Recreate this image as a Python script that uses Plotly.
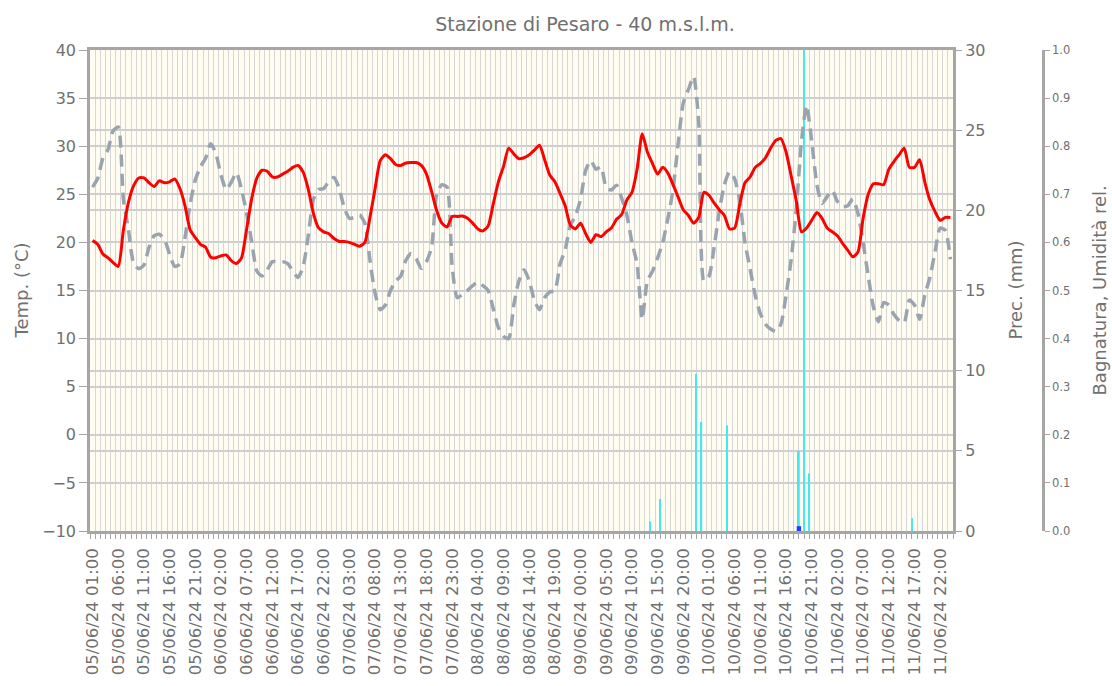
import pandas as pd
import plotly.graph_objects as go

# ---------------- data ----------------
times = pd.date_range("2024-06-05 01:00", periods=168, freq="h")

temperature = [
    20.2, 19.8, 18.8, 18.4, 17.9, 17.5, 21.3, 24.2, 25.9, 26.7,
    26.7, 26.2, 25.8, 26.4, 26.2, 26.3, 26.6, 25.6, 23.8, 21.3,
    20.5, 19.8, 19.5, 18.45, 18.4, 18.6, 18.7, 18.1, 17.8, 18.4,
    21.4, 24.6, 26.7, 27.5, 27.4, 26.8, 26.8, 27.1, 27.4, 27.8,
    28.0, 27.3, 25.5, 23.0, 21.5, 21.1, 20.9, 20.4, 20.1, 20.1,
    20.0, 19.8, 19.6, 20.0, 22.6, 25.6, 28.5, 29.1, 28.7, 28.1,
    28.0, 28.25, 28.3, 28.3, 28.0, 27.1, 25.3, 23.3, 22.0, 21.6,
    22.7, 22.7, 22.75, 22.5, 22.0, 21.4, 21.2, 21.7, 24.0, 26.3,
    27.9, 29.8, 29.2, 28.7, 28.8, 29.1, 29.6, 30.1, 28.6, 27.0,
    26.3, 25.1, 23.8, 21.8, 21.4, 22.0, 20.9, 20.0, 20.8, 20.6,
    21.1, 21.5, 22.4, 22.9, 24.4, 25.2, 27.6, 31.3, 29.4, 28.2,
    27.1, 27.8, 27.2, 26.0, 24.7, 23.4, 22.8, 22.0, 22.6, 25.2,
    24.9, 24.1, 23.4, 22.8, 21.4, 21.5, 24.0, 26.2, 26.8, 27.8,
    28.2, 28.8, 29.8, 30.6, 30.8, 29.4, 26.9, 24.3, 21.1, 21.5,
    22.3, 23.1, 22.5, 21.5, 21.1, 20.7, 19.9, 19.2, 18.5, 19.0,
    22.5, 25.0, 26.1, 26.1, 26.0, 27.6, 28.4, 29.1, 29.8, 27.8,
    27.8, 28.6, 26.3, 24.4, 23.2, 22.3, 22.6, 22.6,
]

humidity = [
    0.715, 0.733, 0.775, 0.793, 0.832, 0.84, 0.69, 0.625, 0.556, 0.545,
    0.553, 0.59, 0.614, 0.617, 0.606, 0.575, 0.55, 0.555, 0.61, 0.68,
    0.73, 0.757, 0.775, 0.805, 0.785, 0.74, 0.71, 0.725, 0.745, 0.71,
    0.66, 0.60, 0.54, 0.53, 0.543, 0.56, 0.56, 0.56, 0.556, 0.54,
    0.527, 0.55, 0.615, 0.69, 0.71, 0.712, 0.727, 0.735, 0.712, 0.672,
    0.65, 0.652, 0.657, 0.64, 0.563, 0.494, 0.46, 0.47, 0.50, 0.52,
    0.53, 0.563, 0.577, 0.566, 0.546, 0.56, 0.59, 0.70, 0.72, 0.715,
    0.55, 0.485, 0.492, 0.50, 0.51, 0.518, 0.51, 0.50, 0.462, 0.423,
    0.405, 0.40, 0.47, 0.52, 0.543, 0.52, 0.48, 0.46, 0.485, 0.497,
    0.50, 0.555, 0.585, 0.635, 0.655, 0.69, 0.75, 0.77, 0.752, 0.757,
    0.713, 0.709, 0.719, 0.692, 0.657, 0.60, 0.555, 0.44, 0.52, 0.54,
    0.568, 0.60, 0.65, 0.71, 0.806, 0.89, 0.918, 0.945, 0.85, 0.52,
    0.53, 0.59, 0.665, 0.72, 0.747, 0.732, 0.685, 0.60, 0.545, 0.49,
    0.452, 0.43, 0.42, 0.415, 0.43, 0.49, 0.565, 0.67, 0.81, 0.885,
    0.81, 0.72, 0.681, 0.695, 0.708, 0.685, 0.674, 0.676, 0.69, 0.66,
    0.60, 0.53, 0.466, 0.435, 0.475, 0.47, 0.45, 0.438, 0.433, 0.48,
    0.47, 0.44, 0.49, 0.527, 0.58, 0.63, 0.625, 0.565,
]

precip_times = [
    "2024-06-09 13:00", "2024-06-09 15:00", "2024-06-09 22:00", "2024-06-09 23:00",
    "2024-06-10 04:00", "2024-06-10 18:00", "2024-06-10 19:00", "2024-06-10 20:00",
    "2024-06-11 16:00",
]
precip_mm = [0.6, 2.0, 9.8, 6.8, 6.6, 5.0, 31.0, 3.6, 0.8]

wet_times = ["2024-06-10 18:00"]
wet_values = [0.01]

title_text = "Stazione di Pesaro - 40 m.s.l.m."
temp_title = "Temp. (°C)"
prec_title = "Prec. (mm)"
hum_title = "Bagnatura, Umidità rel."

# ---------------- styling ----------------
FONT = "DejaVu Sans"
TXT = "#707070"
GRID_V = "#d6d6d6"
GRID_H = "#cfcfcf"
AXL = "#a6a6a6"
HOUR = 3600 * 1000

W, H = 1112, 686
left, right_plot, right_paper, top, bottom = 90, 953, 1043, 50, 531
paper_w = right_paper - left
xdom = (right_plot - left) / paper_w

fig = go.Figure()

fig.add_trace(go.Bar(
    x=wet_times, y=wet_values, yaxis="y2",
    marker=dict(color="#1f3cff", line=dict(width=0)),
    width=0.85 * HOUR, offset=0.5 * HOUR - 0.425 * HOUR,
    showlegend=False, name="Bagnatura",
))
fig.add_trace(go.Bar(
    x=precip_times, y=precip_mm, yaxis="y",
    marker=dict(color="rgb(70,232,240)", line=dict(width=0)),
    width=0.35 * HOUR, offset=0.5 * HOUR - 0.175 * HOUR,
    showlegend=False, name="Prec.",
))
fig.add_trace(go.Scatter(
    x=times, y=humidity, yaxis="y2", mode="lines",
    line=dict(color="#9aa4b1", width=3.5, dash="12px,7px", shape="spline", smoothing=0.6),
    showlegend=False, name="Umidità rel.",
))
fig.add_trace(go.Scatter(
    x=times, y=temperature, yaxis="y3", mode="lines",
    line=dict(color="#ff0000", width=3, shape="spline", smoothing=0.6),
    showlegend=False, name="Temp.",
))

x0 = times[0] - pd.Timedelta(minutes=30)
x1 = times[-1] + pd.Timedelta(minutes=30)

fig.update_layout(
    width=W, height=H,
    margin=dict(l=left, r=W - right_paper, t=top, b=H - bottom, pad=0),
    paper_bgcolor="white",
    plot_bgcolor="#fffcf1",
    font=dict(family=FONT, color=TXT),
    barmode="overlay",
    title=dict(text=title_text, x=585 / W, xref="container", xanchor="center",
               y=1 - 24 / H, yref="container", yanchor="middle",
               font=dict(size=19, color=TXT, family=FONT)),
    xaxis=dict(
        type="date", domain=[0, xdom], range=[x0, x1],
        tickmode="linear", tick0=times[0], dtick=5 * HOUR,
        tickformat="%d/%m/%y %H:%M", tickangle=-90,
        tickfont=dict(size=16.5, color=TXT, family=FONT),
        ticklabelstandoff=8,
        showgrid=False, ticks="", ticklen=0,
        minor=dict(tick0=times[0] + pd.Timedelta(minutes=30), dtick=HOUR,
                   showgrid=True, gridcolor=GRID_V, gridwidth=1.3,
                   ticks="outside", ticklen=5, tickcolor=AXL, tickwidth=1),
        showline=True, linecolor=AXL, linewidth=2.5, mirror=True,
        zeroline=False,
    ),
    yaxis=dict(  # precipitation
        side="right", anchor="x", range=[0, 30], tickmode="linear", tick0=0, dtick=5,
        tickfont=dict(size=16, color=TXT, family=FONT),
        ticks="outside", ticklen=8, tickcolor=AXL,
        showgrid=True, gridcolor=GRID_H, gridwidth=1.5, zeroline=False,
        showline=False,
    ),
    yaxis2=dict(  # bagnatura / umidita
        overlaying="y", side="right", anchor="free", position=1.0,
        range=[0, 1], tickmode="linear", tick0=0, dtick=0.1, tickformat=".1f",
        tickfont=dict(size=11.5, color=TXT, family=FONT),
        ticks="outside", ticklen=5, tickcolor=AXL,
        showgrid=False, zeroline=False,
        showline=True, linecolor=AXL, linewidth=2.5,
    ),
    yaxis3=dict(  # temperature
        overlaying="y", side="left", anchor="x",
        range=[-10, 40], tickmode="linear", tick0=-10, dtick=5,
        tickfont=dict(size=16, color=TXT, family=FONT),
        ticks="outside", ticklen=8, tickcolor=AXL,
        showgrid=True, gridcolor=GRID_H, gridwidth=1.5, zeroline=False,
        showline=True, linecolor=AXL, linewidth=2.5, mirror=True,
    ),
)

def px_to_paper(px):
    return (px - left) / paper_w

for txt, px in [(temp_title, 21), (prec_title, 1015), (hum_title, 1099)]:
    fig.add_annotation(
        text=txt, x=px_to_paper(px), y=0.5, xref="paper", yref="paper",
        xanchor="center", yanchor="middle", showarrow=False, textangle=-90,
        font=dict(size=18, color=TXT, family=FONT),
    )

fig.write_html(
    "out.html",
    config={"displayModeBar": False},
    post_script="document.body.style.margin='0';document.body.style.overflow='hidden';",
)
